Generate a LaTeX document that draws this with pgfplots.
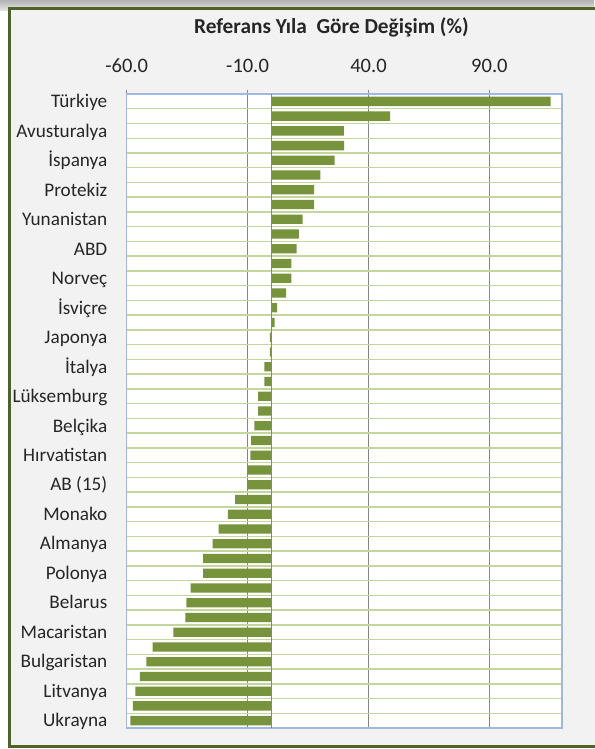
\documentclass[border=0pt]{standalone}
\usepackage{fontspec}
\setmainfont{Carlito}
\usepackage{pgfplots}
\pgfplotsset{compat=1.18}
\usepackage{pgfplotstable}
\definecolor{barg}{HTML}{77933C}
\definecolor{gridg}{HTML}{C3D69B}
\definecolor{frameg}{HTML}{4F6228}
\definecolor{axblue}{HTML}{9DB9E0}
\definecolor{gline}{HTML}{868686}
\definecolor{chartbg}{HTML}{F2F2F2}
\definecolor{txt}{HTML}{262626}
\pgfplotstableread{
idx val
0 115.3
1 48.9
2 29.8
3 29.9
4 26.0
5 20.1
6 17.5
7 17.5
8 12.8
9 11.2
10 10.3
11 8.1
12 8.1
13 5.9
14 2.2
15 1.2
16 -0.8
17 -0.8
18 -3.1
19 -3.1
20 -5.6
21 -5.6
22 -7.2
23 -8.5
24 -8.8
25 -10.2
26 -10.2
27 -15.2
28 -18.2
29 -22.0
30 -24.5
31 -28.4
32 -28.4
33 -33.6
34 -35.3
35 -35.7
36 -40.7
37 -49.3
38 -51.8
39 -54.5
40 -56.4
41 -57.4
42 -58.5
}\datatable
\begin{document}
\begin{tikzpicture}
\useasboundingbox (0,0) rectangle (445.5pt,561.75pt);
\fill[white] (0,0) rectangle (445.5pt,561.75pt);
\shade[top color=gray!60, bottom color=gray!20] (0,554pt) rectangle (445.5pt,561.75pt);
\filldraw[fill=chartbg, draw=frameg, line width=2.25pt] (7.1pt,1.9pt) rectangle (470pt,555.4pt);
\node[font=\bfseries\fontsize{16}{19}\selectfont, text=txt] at (248.6pt,541.3pt) {Referans Yıla~ Göre Değişim (\%)};
\begin{axis}[
  at={(95pt,15.75pt)}, anchor=south west,
  scale only axis, width=326.5pt, height=475.5pt,
  xmin=-60, xmax=120, ymin=-0.5, ymax=42.5, y dir=reverse,
  xbar, bar width=0.63,
  axis background/.style={fill=white},
  axis line style={axblue, line width=0.9pt},
  xtick={-60,-10,40,90},
  xticklabels={-60.0,-10.0,40.0,90.0},
  xtick pos=right, xticklabel pos=right, xtick align=outside,
  major tick length=3pt,
  x tick style={gline, line width=0.75pt},
  xmajorgrids, x grid style={gline, line width=0.75pt},
  ytick={0,2,...,42},
  yticklabels={Türkiye,Avusturalya,İspanya,Protekiz,Yunanistan,ABD,Norveç,İsviçre,Japonya,İtalya,Lüksemburg,Belçika,Hırvatistan,AB (15),Monako,Almanya,Polonya,Belarus,Macaristan,Bulgaristan,Litvanya,Ukrayna},
  y tick style={draw=none},
  minor y tick style={draw=none},
  minor ytick={0.5,1.5,...,41.5},
  yminorgrids, minor y grid style={gridg, line width=1.1pt},
  xticklabel style={font=\fontsize{15.4}{18}\selectfont, text=txt, yshift=9.5pt},
  yticklabel style={font=\fontsize{14.4}{17}\selectfont, text=txt, xshift=-8pt, yshift=-2.2pt, text height=7.2pt, text depth=2.2pt},
]
\addplot[fill=barg, draw=none] table[x=val, y=idx] {\datatable};
\draw[gline, line width=0.75pt] (axis cs:0,-0.5) -- (axis cs:0,42.5);
\end{axis}
\end{tikzpicture}
\end{document}
